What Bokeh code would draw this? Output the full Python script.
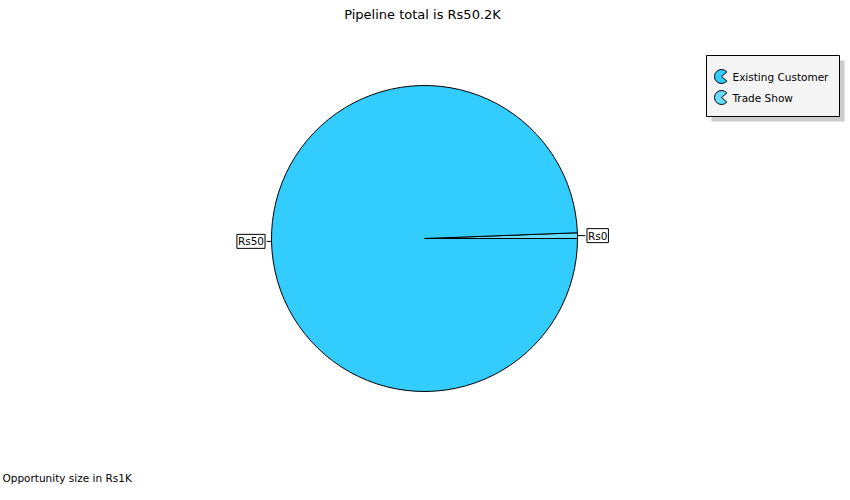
import numpy as np
from bokeh.plotting import figure
from bokeh.models import Range1d
from bokeh.core.properties import value
from bokeh.embed import file_html
from bokeh.resources import INLINE

# ---- data ----
categories = ["Existing Customer", "Trade Show"]
values = [49.9, 0.3]          # in Rs1K
colors = ["#33CCFF", "#66DDFF"]
value_labels = ["Rs50", "Rs0"]
title_text = "Pipeline total is Rs50.2K"
footer_text = "Opportunity size in Rs1K"

W, H = 850, 500
FONT = "DejaVu Sans"
SMALL = "10.5px"

p = figure(width=W, height=H, output_backend="svg", toolbar_location=None,
           x_range=Range1d(0, W), y_range=Range1d(0, H), min_border=0,
           tools="")
p.axis.visible = False
p.grid.visible = False
p.outline_line_color = None
p.background_fill_color = "white"
p.border_fill_color = "white"

def Y(sy):
    return H - sy

# pie geometry
cx, cy, r = 424, Y(238), 153
vals = np.array(values, dtype=float)
frac = vals / vals.sum()
# Trade Show drawn first from angle 0 counterclockwise, then Existing Customer
order = [1, 0]
start = 0.0
angles = {}
for i in order:
    end = start + frac[i] * 2 * np.pi
    angles[i] = (start, end)
    start = end

for i in order:
    s, e = angles[i]
    p.wedge(x=cx, y=cy, radius=r, start_angle=s, end_angle=e,
            fill_color=colors[i], line_color="black", line_width=1)

# value labels with leader lines
for i in order:
    s, e = angles[i]
    mid = (s + e) / 2
    ax, ay = cx + r * np.cos(mid), cy + r * np.sin(mid)
    if np.cos(mid) >= 0:
        bx = ax + 8
        p.line([ax, bx], [ay, ay], line_color="black", line_width=1)
        p.text(x=[bx + 1.5], y=[ay], text=[value_labels[i]], text_align="left",
               text_baseline="middle", text_font=value(FONT), text_font_size=SMALL,
               text_color="black", border_line_color="black", border_line_width=1,
               background_fill_color="white", padding=1)
    else:
        bx = ax - 5
        p.line([ax, bx], [ay, ay], line_color="black", line_width=1)
        p.text(x=[bx - 1.5], y=[ay], text=[value_labels[i]], text_align="right",
               text_baseline="middle", text_font=value(FONT), text_font_size=SMALL,
               text_color="black", border_line_color="black", border_line_width=1,
               background_fill_color="white", padding=1)

# title & footer
p.text(x=[W / 2 - 3], y=[Y(14)], text=[title_text], text_align="center",
       text_baseline="middle", text_font=value(FONT), text_font_size="13px",
       text_color="black")
p.text(x=[2], y=[Y(477)], text=[footer_text], text_align="left",
       text_baseline="middle", text_font=value(FONT), text_font_size=SMALL,
       text_color="black")

# legend
lx0, lx1, ly0, ly1 = 706, 839, 55, 116
p.quad(left=lx0 + 5, right=lx1 + 5, top=Y(ly0 + 5), bottom=Y(ly1 + 5),
       fill_color="#CCCCCC", line_color=None)
p.quad(left=lx0, right=lx1, top=Y(ly0), bottom=Y(ly1),
       fill_color="#F4F4F4", line_color="black", line_width=1)
for k, name in enumerate(categories):
    iy = Y(76 + k * 21)
    p.wedge(x=721, y=iy, radius=7, start_angle=0.7, end_angle=2 * np.pi - 0.7,
            fill_color=colors[k], line_color="black", line_width=1)
    p.text(x=[732], y=[iy], text=[name], text_align="left", text_baseline="middle",
           text_font=value(FONT), text_font_size=SMALL, text_color="black")

open("out.html", "w").write(file_html(p, INLINE))
